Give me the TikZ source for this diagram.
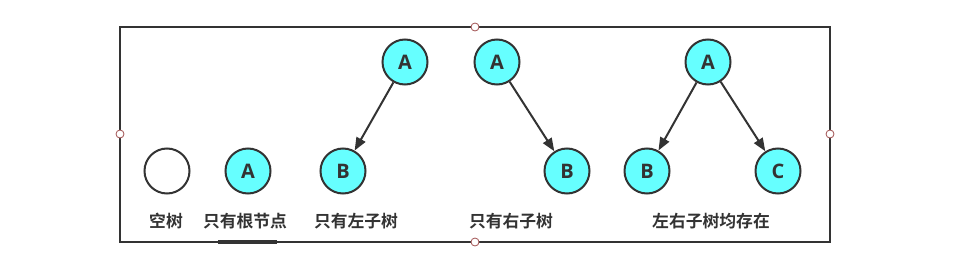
\documentclass[tikz,border=0pt]{standalone}
\usepackage{fontspec}
\setmainfont{Open Sans}
\newfontfamily\cjk[BoldFont=Noto Sans CJK SC Bold]{Noto Sans CJK SC}
\usetikzlibrary{arrows.meta}
\definecolor{nodefill}{HTML}{66FFFF}
\definecolor{linecol}{HTML}{333333}
\definecolor{handle}{HTML}{A05050}
\tikzset{
  tnode/.style={circle, draw=linecol, line width=2pt, fill=nodefill, minimum size=45pt, inner sep=0pt,
    font=\fontsize{20}{22}\selectfont\bfseries, text=linecol},
  enode/.style={circle, draw=linecol, line width=2pt, fill=white, minimum size=45pt, inner sep=0pt},
  lbl/.style={font=\cjk\fontsize{16.8}{18}\selectfont\bfseries, text=linecol},
  edge/.style={draw=linecol, line width=2pt, -{Triangle[length=13pt,width=10pt]}},
  hdl/.style={circle, draw=handle, line width=0.8pt, fill=white, minimum size=8pt, inner sep=0pt},
}
\begin{document}
\begin{tikzpicture}[x=1pt,y=-1pt]
\useasboundingbox (0,0) rectangle (962,276);
\draw[linecol, line width=2pt] (120,27) rectangle (830,242);
\draw[linecol, line width=3.5pt] (218,242) -- (277,242);
% nodes
\node[enode] (e) at (167,171) {};
\node[tnode] (r) at (248,171) {A};
\node[tnode] (la) at (405,62) {A};
\node[tnode] (lb) at (343,171) {B};
\node[tnode] (ra) at (497,62) {A};
\node[tnode] (rb) at (567,171) {B};
\node[tnode] (ba) at (708,62) {A};
\node[tnode] (bb) at (647,171) {B};
\node[tnode] (bc) at (778,171) {C};
% edges
\draw[edge] (la) -- (lb);
\draw[edge] (ra) -- (rb);
\draw[edge] (ba) -- (bb);
\draw[edge] (ba) -- (bc);
% labels
\node[lbl] (l1) at (166,221) {空树};
\node[lbl] (l2) at (245,221) {只有根节点};
\node[lbl] (l3) at (356,221) {只有左子树};
\node[lbl] (l4) at (511,221) {只有右子树};
\node[lbl] (l5) at (711,221) {左右子树均存在};
% handles
\node[hdl] (h1) at (475,27) {};
\node[hdl] (h2) at (475,242) {};
\node[hdl] (h3) at (120,134) {};
\node[hdl] (h4) at (830,134) {};
\end{tikzpicture}
\end{document}
